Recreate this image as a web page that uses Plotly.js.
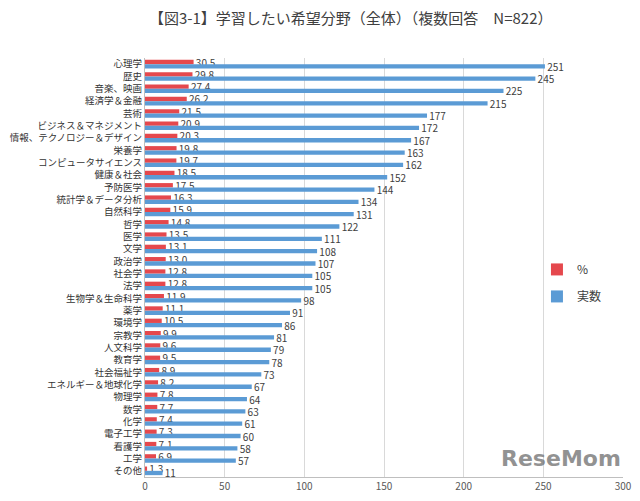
<!DOCTYPE html>
<html>
<head>
<meta charset="utf-8">
<script src="https://cdn.plot.ly/plotly-3.0.1.min.js"></script>
<style>html,body{margin:0;padding:0;background:#fff;}#chart{width:640px;height:501px;}</style>
</head>
<body>
<div id="chart"></div>
<script>
const categories = ["心理学","歴史","音楽、映画","経済学＆金融","芸術","ビジネス＆マネジメント","情報、テクノロジー＆デザイン","栄養学","コンピュータサイエンス","健康＆社会","予防医学","統計学＆データ分析","自然科学","哲学","医学","文学","政治学","社会学","法学","生物学＆生命科学","薬学","環境学","宗教学","人文科学","教育学","社会福祉学","エネルギー＆地球化学","物理学","数学","化学","電子工学","看護学","工学","その他"];
const percentValues = [30.5,29.8,27.4,26.2,21.5,20.9,20.3,19.8,19.7,18.5,17.5,16.3,15.9,14.8,13.5,13.1,13.0,12.8,12.8,11.9,11.1,10.5,9.9,9.6,9.5,8.9,8.2,7.8,7.7,7.4,7.3,7.1,6.9,1.3];
const countValues = [251,245,225,215,177,172,167,163,162,152,144,134,131,122,111,108,107,105,105,98,91,86,81,79,78,73,67,64,63,61,60,58,57,11];
const xTicks = [0,50,100,150,200,250,300];
const seriesNames = ["%","実数"];

const font = "'Noto Sans CJK JP', 'Noto Sans', sans-serif";
const pad = "\u00A0";

const traces = [
  {
    type: "bar", orientation: "h", name: seriesNames[0], legendgroup: "a",
    y: categories, x: percentValues,
    text: percentValues.map(v => pad + v.toFixed(1)),
    textposition: "outside", cliponaxis: false, constraintext: "none",
    textfont: {size: 10, color: "#404040", family: font},
    marker: {color: "#E5484D"},
    hoverinfo: "x+y"
  },
  {
    type: "bar", orientation: "h", name: seriesNames[1], legendgroup: "b",
    y: categories, x: countValues,
    text: countValues.map(v => pad + String(v)),
    textposition: "outside", cliponaxis: false, constraintext: "none",
    textfont: {size: 10, color: "#404040", family: font},
    marker: {color: "#5B9BD5"},
    hoverinfo: "x+y"
  }
];

const layout = {
  width: 640, height: 501,
  margin: {l: 145, r: 17, t: 58, b: 24},
  paper_bgcolor: "#fff", plot_bgcolor: "#fff",
  font: {family: font, color: "#404040"},
  title: {
    text: "【図3-1】学習したい希望分野（全体）（複数回答　N=822）",
    font: {size: 15, color: "#404040", family: font},
    x: 0.548, xanchor: "center", y: 0.962, yanchor: "middle"
  },
  barmode: "group", bargap: 0.3, bargroupgap: 0,
  xaxis: {
    range: [0, 300], tickvals: xTicks, ticktext: xTicks.map(String),
    showgrid: true, gridcolor: "#d9d9d9", gridwidth: 1,
    zeroline: false, showline: true, linecolor: "#bfbfbf",
    tickfont: {size: 10, color: "#595959", family: font},
    ticks: "", fixedrange: true
  },
  yaxis: {
    autorange: "reversed", type: "category",
    showline: true, linecolor: "#bfbfbf",
    tickfont: {size: 9.5, color: "#333", family: font},
    ticks: "", ticklen: 0, automargin: false, fixedrange: true
  },
  showlegend: true,
  legend: {
    x: 0.82, xanchor: "left", y: 0.53, yanchor: "top",
    bgcolor: "rgba(255,255,255,0)", borderwidth: 0,
    font: {size: 12, color: "#404040", family: font},
    itemwidth: 30, tracegroupgap: 8, traceorder: "grouped"
  },
  annotations: [
    {
      text: "<b>ReseMom</b>", xref: "paper", yref: "paper",
      x: 1.0, y: 0.01, xanchor: "right", yanchor: "bottom", showarrow: false,
      font: {size: 22, color: "rgba(110,110,110,0.75)", family: "'DejaVu Sans', sans-serif"}
    }
  ]
};

Plotly.newPlot("chart", traces, layout, {displayModeBar: false, staticPlot: true});
</script>
</body>
</html>
